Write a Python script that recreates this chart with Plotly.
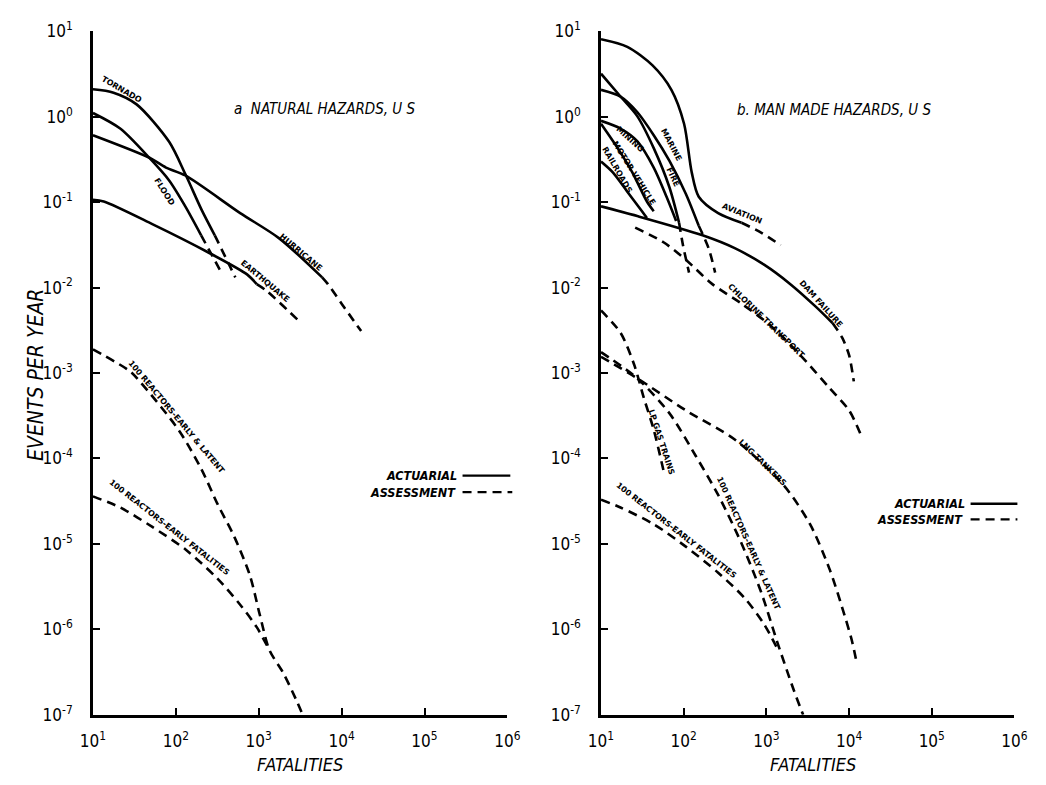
import math
import plotly.graph_objects as go

W, H = 1046, 785

# ---------------- Panel a: natural hazards, U.S. ----------------
tornado_x = [10, 17.7, 33.6, 83, 130, 204, 295]
tornado_y = [2.1, 1.92, 1.40, 0.51, 0.214, 0.082, 0.041]
tornado_dash_x = [295, 522]
tornado_dash_y = [0.041, 0.0132]

flood_x = [10, 21.3, 48, 83, 130, 202]
flood_y = [1.11, 0.73, 0.33, 0.18, 0.0895, 0.041]
flood_dash_x = [202, 348]
flood_dash_y = [0.041, 0.0155]

hurricane_x = [10, 48, 76, 130, 597, 1766, 5820]
hurricane_y = [0.61, 0.332, 0.255, 0.206, 0.0746, 0.0378, 0.0132]
hurricane_dash_x = [5820, 6840, 10000, 17200]
hurricane_dash_y = [0.0132, 0.011, 0.0065, 0.0031]

earthquake_x = [10, 13.5, 52, 244, 722, 946]
earthquake_y = [0.107, 0.102, 0.0555, 0.026, 0.0143, 0.011]
earthquake_dash_x = [946, 1240, 3030]
earthquake_dash_y = [0.011, 0.0092, 0.0041]

reac_el_a_x = [10, 28, 36.7, 108, 202, 320, 508, 783, 1028, 1347, 1968, 2800, 3390]
reac_el_a_y = [1.9e-3, 1.05e-3, 8.0e-4, 2.16e-4, 7.6e-5, 2.9e-5, 1.21e-5, 4.26e-6,
               1.49e-6, 5.7e-7, 3.1e-7, 1.53e-7, 1e-7]

reac_ef_a_x = [10, 21.3, 52, 131, 320, 597, 946, 1347]
reac_ef_a_y = [3.6e-5, 2.67e-5, 1.58e-5, 8.6e-6, 3.9e-6, 1.94e-6, 1.06e-6, 5.7e-7]

# ---------------- Panel b: man made hazards, U.S. ----------------
aviation_x = [10, 20.8, 42, 71, 101, 125, 152, 261, 501]
aviation_y = [8.1, 6.6, 4.0, 2.07, 0.83, 0.224, 0.116, 0.0746, 0.0575]
aviation_dash_x = [501, 863, 1486]
aviation_dash_y = [0.0575, 0.0442, 0.0314]

marine_x = [10, 17.2, 27.4, 43.4, 67, 88]
marine_y = [3.2, 1.73, 1.02, 0.43, 0.151, 0.0574]
marine_dash_x = [88, 98, 116]
marine_dash_y = [0.0574, 0.0314, 0.015]

fire_x = [10, 17.2, 27.4, 43.4, 67, 106, 152]
fire_y = [2.07, 1.73, 1.14, 0.61, 0.307, 0.126, 0.053]
fire_dash_x = [152, 200, 240]
fire_dash_y = [0.053, 0.029, 0.015]

mining_x = [10, 17.2, 27.4, 43.4, 62, 81]
mining_y = [0.9, 0.73, 0.52, 0.255, 0.116, 0.0605]

motor_x = [10, 15.9, 23.9, 35.9, 43.4]
motor_y = [0.83, 0.43, 0.224, 0.102, 0.0785]

rail_x = [10, 13.9, 20.8, 31.3, 35.9]
rail_y = [0.3, 0.224, 0.133, 0.0785, 0.0654]

dam_x = [10, 27.4, 169, 414, 937, 1950, 3950, 6300]
dam_y = [0.0895, 0.0689, 0.041, 0.029, 0.0186, 0.011, 0.006, 0.00386]
dam_dash_x = [6300, 8250, 10000, 11400]
dam_dash_y = [0.00386, 0.0026, 0.00162, 0.0008]

chlorine_x = [25.9, 57, 106, 222, 501, 1132, 2560, 5790, 10000, 14200]
chlorine_y = [0.0504, 0.034, 0.0212, 0.011, 0.0065, 0.00357, 0.00163, 6.7e-4, 3.66e-4, 1.8e-4]

lpgas_x = [10, 17.2, 25.2, 33, 43.4, 58]
lpgas_y = [5.4e-3, 2.97e-3, 1.25e-3, 5.1e-4, 2.17e-4, 6.7e-5]

reac_el_b_x = [10, 27.4, 67, 140, 261, 501, 863, 1334, 2120, 2780]
reac_el_b_y = [1.76e-3, 8.7e-4, 3.4e-4, 1.07e-4, 3.74e-5, 1.01e-5, 2.73e-6, 7.4e-7, 2.0e-7, 1e-7]

lng_x = [10, 27.4, 106, 414, 1614, 3370, 5790, 8250, 10800, 12400]
lng_y = [1.55e-3, 8.7e-4, 3.66e-4, 1.67e-4, 4.87e-5, 1.7e-5, 5.1e-6, 1.8e-6, 7.4e-7, 4.0e-7]

reac_ef_b_x = [10, 17.2, 43.4, 106, 261, 544, 937, 1410]
reac_ef_b_y = [3.29e-5, 2.67e-5, 1.7e-5, 9.3e-6, 4.6e-6, 2.33e-6, 1.15e-6, 5.5e-7]

# ---------------- curve labels (text, x, y, angle) ----------------
labels_a = [
    ("TORNADO", 21.9, 2.07, 30),
    ("FLOOD", 72, 0.133, 57),
    ("HURRICANE", 3210, 0.0255, 40),
    ("EARTHQUAKE", 1208, 0.0119, 40),
    ("100 REACTORS-EARLY & LATENT", 103, 3.04e-4, 50),
    ("100 REACTORS-EARLY FATALITIES", 83, 1.54e-5, 38),
]
labels_b = [
    ("AVIATION", 501, 0.0746, 22),
    ("MARINE", 70.8, 0.479, 62),
    ("FIRE", 74.8, 0.197, 65),
    ("MINING", 22.6, 0.546, 42),
    ("MOTOR VEHICLE", 25.2, 0.218, 58),
    ("RAILROADS", 15.8, 0.236, 60),
    ("DAM FAILURE", 4530, 0.00653, 48),
    ("CHLORINE TRANSPORT", 1016, 0.00407, 44),
    ("LP GAS TRAINS", 54, 1.54e-4, 72),
    ("LNG TANKERS", 887, 8.9e-5, 44),
    ("100 REACTORS-EARLY & LATENT", 607, 1.01e-5, 66),
    ("100 REACTORS-EARLY FATALITIES", 81, 1.42e-5, 38),
]

x_tickvals = [10, 100, 1000, 10000, 100000, 1000000]
x_ticktext = ["10<sup>1</sup>", "10<sup>2</sup>", "10<sup>3</sup>", "10<sup>4</sup>",
              "10<sup>5</sup>", "10<sup>6</sup>"]
y_tickvals = [10, 1, 0.1, 0.01, 1e-3, 1e-4, 1e-5, 1e-6, 1e-7]
y_ticktext = ["10<sup>1</sup>", "10<sup>0</sup>", "10<sup>-1</sup>", "10<sup>-2</sup>",
              "10<sup>-3</sup>", "10<sup>-4</sup>", "10<sup>-5</sup>", "10<sup>-6</sup>",
              "10<sup>-7</sup>"]

NARROW = "Liberation Sans Narrow, DejaVu Sans Condensed, Arial Narrow, sans-serif"
BOLD = "DejaVu Sans, Arial, sans-serif"
DASH = "9px,6px"

fig = go.Figure()


def add(xs, ys, panel, dashed=False):
    fig.add_trace(go.Scatter(
        x=xs, y=ys, mode="lines",
        xaxis="x" if panel == 1 else "x2",
        yaxis="y" if panel == 1 else "y2",
        line=dict(color="black", width=2.6, dash=DASH if dashed else "solid",
                  shape="spline", smoothing=0.8),
        showlegend=False, hoverinfo="skip"))


# panel a
add(tornado_x, tornado_y, 1)
add(tornado_dash_x, tornado_dash_y, 1, True)
add(flood_x, flood_y, 1)
add(flood_dash_x, flood_dash_y, 1, True)
add(hurricane_x, hurricane_y, 1)
add(hurricane_dash_x, hurricane_dash_y, 1, True)
add(earthquake_x, earthquake_y, 1)
add(earthquake_dash_x, earthquake_dash_y, 1, True)
add(reac_el_a_x, reac_el_a_y, 1, True)
add(reac_ef_a_x, reac_ef_a_y, 1, True)

# panel b
add(aviation_x, aviation_y, 2)
add(aviation_dash_x, aviation_dash_y, 2, True)
add(marine_x, marine_y, 2)
add(marine_dash_x, marine_dash_y, 2, True)
add(fire_x, fire_y, 2)
add(fire_dash_x, fire_dash_y, 2, True)
add(mining_x, mining_y, 2)
add(motor_x, motor_y, 2)
add(rail_x, rail_y, 2)
add(dam_x, dam_y, 2)
add(dam_dash_x, dam_dash_y, 2, True)
add(chlorine_x, chlorine_y, 2, True)
add(lpgas_x, lpgas_y, 2, True)
add(reac_el_b_x, reac_el_b_y, 2, True)
add(lng_x, lng_y, 2, True)
add(reac_ef_b_x, reac_ef_b_y, 2, True)

ann = []
for panel, labs in ((1, labels_a), (2, labels_b)):
    for t, x, y, a in labs:
        ann.append(dict(text=t, x=math.log10(x), y=math.log10(y),
                        xref="x" if panel == 1 else "x2",
                        yref="y" if panel == 1 else "y2",
                        xanchor="center", yanchor="middle",
                        textangle=a, showarrow=False,
                        font=dict(family=BOLD, size=8, color="black", weight="bold")))

# panel titles
ann.append(dict(text="<i>a  NATURAL HAZARDS, U S</i>", x=math.log10(481), y=math.log10(1.23),
                xref="x", yref="y", xanchor="left", yanchor="middle", showarrow=False,
                font=dict(family=NARROW, size=15, color="black")))
ann.append(dict(text="<i>b. MAN MADE HAZARDS, U S</i>", x=math.log10(414), y=math.log10(1.2),
                xref="x2", yref="y2", xanchor="left", yanchor="middle", showarrow=False,
                font=dict(family=NARROW, size=15, color="black")))

# axis titles
ann.append(dict(text="<i>EVENTS PER YEAR</i>", x=23 / W, y=1 - 373 / H, xref="paper", yref="paper",
                xanchor="center", yanchor="middle",
                textangle=-90, showarrow=False, font=dict(family=NARROW, size=21, color="black")))
for cx in (294, 820):
    ann.append(dict(text="<i>FATALITIES</i>", x=cx / W, y=1 - 774 / H, xref="paper", yref="paper",
                    xanchor="center", yanchor="middle",
                    showarrow=False, font=dict(family=NARROW, size=18, color="black")))

# line-style key
shapes = []
for (tx, ty, lx0, lx1, txt, dashed) in [
        (457, 477, 461, 510, "ACTUARIAL", False),
        (456, 494, 461, 512, "ASSESSMENT", True),
        (978, 506, 982, 1030, "ACTUARIAL", False),
        (976, 522, 982, 1030, "ASSESSMENT", True)]:
    ann.append(dict(text="<b><i>" + txt + "</i></b>", x=tx / W, y=1 - ty / H, xref="paper", yref="paper",
                    xanchor="right", yanchor="middle", showarrow=False,
                    font=dict(family=NARROW, size=12.5, color="black")))
    shapes.append(dict(type="line", xref="paper", yref="paper", x0=lx0 / W, x1=lx1 / W,
                       y0=1 - ty / H, y1=1 - ty / H,
                       line=dict(color="black", width=2.4, dash=DASH if dashed else "solid")))

axis_common = dict(type="log", showgrid=False, zeroline=False, showline=True, linecolor="black",
                   linewidth=2.6, ticks="inside", ticklen=7, tickwidth=2, tickcolor="black",
                   tickfont=dict(family=NARROW, size=17, color="black"))

xa = dict(axis_common, range=[1, 6], tickvals=x_tickvals, ticktext=x_ticktext, ticklabelstandoff=9)
ya = dict(axis_common, range=[-7, 1], tickvals=y_tickvals, ticktext=y_ticktext, ticklabelstandoff=14)

ydom = [62 / H, 765 / H]
fig.update_layout(
    width=W, height=H,
    margin=dict(l=0, r=0, t=0, b=0),
    paper_bgcolor="white", plot_bgcolor="white",
    xaxis=dict(xa, domain=[82 / W, 507 / W], anchor="y"),
    yaxis=dict(ya, domain=ydom, anchor="x"),
    xaxis2=dict(xa, domain=[603 / W, 1027 / W], anchor="y2"),
    yaxis2=dict(ya, domain=ydom, anchor="x2"),
    annotations=ann, shapes=shapes,
)

fig.write_html("out.html")
